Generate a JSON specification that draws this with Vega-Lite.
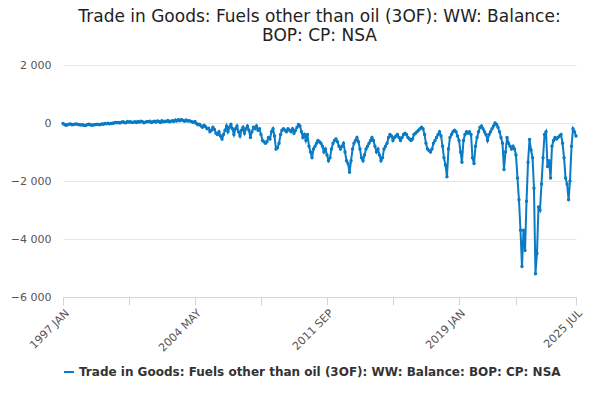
{
  "$schema": "https://vega.github.io/schema/vega-lite/v6.json",
  "width": 600,
  "height": 400,
  "autosize": {"type": "fit", "contains": "padding"},
  "padding": {"left": 10, "right": 16, "top": 8, "bottom": 22},
  "title": {
    "text": ["Trade in Goods: Fuels other than oil (3OF): WW: Balance:", "BOP: CP: NSA"],
    "font": "DejaVu Sans", "fontSize": 17, "fontWeight": "normal", "color": "#222", "anchor": "middle", "offset": 14
  },
  "data": {"values": [
    {"d":"1997-01-01","v":-20},{"d":"1997-02-01","v":-50},{"d":"1997-03-01","v":-80},{"d":"1997-04-01","v":-60},{"d":"1997-05-01","v":-40},{"d":"1997-06-01","v":-30},{"d":"1997-07-01","v":-60},{"d":"1997-08-01","v":-50},{"d":"1997-09-01","v":-40},{"d":"1997-10-01","v":-30},{"d":"1997-11-01","v":-50},{"d":"1997-12-01","v":-60},
    {"d":"1998-01-01","v":-70},{"d":"1998-02-01","v":-60},{"d":"1998-03-01","v":-80},{"d":"1998-04-01","v":-90},{"d":"1998-05-01","v":-60},{"d":"1998-06-01","v":-40},{"d":"1998-07-01","v":-50},{"d":"1998-08-01","v":-80},{"d":"1998-09-01","v":-70},{"d":"1998-10-01","v":-60},{"d":"1998-11-01","v":-50},{"d":"1998-12-01","v":-40},
    {"d":"1999-01-01","v":-60},{"d":"1999-02-01","v":-50},{"d":"1999-03-01","v":-30},{"d":"1999-04-01","v":-40},{"d":"1999-05-01","v":-20},{"d":"1999-06-01","v":-30},{"d":"1999-07-01","v":-10},{"d":"1999-08-01","v":-30},{"d":"1999-09-01","v":-20},{"d":"1999-10-01","v":-10},{"d":"1999-11-01","v":0},{"d":"1999-12-01","v":20},
    {"d":"2000-01-01","v":10},{"d":"2000-02-01","v":20},{"d":"2000-03-01","v":0},{"d":"2000-04-01","v":30},{"d":"2000-05-01","v":40},{"d":"2000-06-01","v":20},{"d":"2000-07-01","v":10},{"d":"2000-08-01","v":50},{"d":"2000-09-01","v":30},{"d":"2000-10-01","v":40},{"d":"2000-11-01","v":20},{"d":"2000-12-01","v":30},
    {"d":"2001-01-01","v":40},{"d":"2001-02-01","v":20},{"d":"2001-03-01","v":50},{"d":"2001-04-01","v":30},{"d":"2001-05-01","v":60},{"d":"2001-06-01","v":40},{"d":"2001-07-01","v":10},{"d":"2001-08-01","v":30},{"d":"2001-09-01","v":50},{"d":"2001-10-01","v":40},{"d":"2001-11-01","v":60},{"d":"2001-12-01","v":20},
    {"d":"2002-01-01","v":40},{"d":"2002-02-01","v":60},{"d":"2002-03-01","v":30},{"d":"2002-04-01","v":70},{"d":"2002-05-01","v":50},{"d":"2002-06-01","v":20},{"d":"2002-07-01","v":80},{"d":"2002-08-01","v":40},{"d":"2002-09-01","v":60},{"d":"2002-10-01","v":50},{"d":"2002-11-01","v":90},{"d":"2002-12-01","v":40},
    {"d":"2003-01-01","v":60},{"d":"2003-02-01","v":80},{"d":"2003-03-01","v":50},{"d":"2003-04-01","v":100},{"d":"2003-05-01","v":70},{"d":"2003-06-01","v":110},{"d":"2003-07-01","v":80},{"d":"2003-08-01","v":120},{"d":"2003-09-01","v":90},{"d":"2003-10-01","v":60},{"d":"2003-11-01","v":100},{"d":"2003-12-01","v":70},
    {"d":"2004-01-01","v":80},{"d":"2004-02-01","v":60},{"d":"2004-03-01","v":40},{"d":"2004-04-01","v":20},{"d":"2004-05-01","v":50},{"d":"2004-06-01","v":-20},{"d":"2004-07-01","v":-60},{"d":"2004-08-01","v":-40},{"d":"2004-09-01","v":-100},{"d":"2004-10-01","v":-150},{"d":"2004-11-01","v":-80},{"d":"2004-12-01","v":-120},
    {"d":"2005-01-01","v":-200},{"d":"2005-02-01","v":-180},{"d":"2005-03-01","v":-300},{"d":"2005-04-01","v":-250},{"d":"2005-05-01","v":-150},{"d":"2005-06-01","v":-220},{"d":"2005-07-01","v":-350},{"d":"2005-08-01","v":-400},{"d":"2005-09-01","v":-300},{"d":"2005-10-01","v":-450},{"d":"2005-11-01","v":-550},{"d":"2005-12-01","v":-400},
    {"d":"2006-01-01","v":-250},{"d":"2006-02-01","v":-100},{"d":"2006-03-01","v":-300},{"d":"2006-04-01","v":-150},{"d":"2006-05-01","v":-50},{"d":"2006-06-01","v":-200},{"d":"2006-07-01","v":-400},{"d":"2006-08-01","v":-200},{"d":"2006-09-01","v":-100},{"d":"2006-10-01","v":-300},{"d":"2006-11-01","v":-450},{"d":"2006-12-01","v":-250},
    {"d":"2007-01-01","v":-150},{"d":"2007-02-01","v":-350},{"d":"2007-03-01","v":-200},{"d":"2007-04-01","v":-100},{"d":"2007-05-01","v":-250},{"d":"2007-06-01","v":-500},{"d":"2007-07-01","v":-300},{"d":"2007-08-01","v":-150},{"d":"2007-09-01","v":-200},{"d":"2007-10-01","v":-100},{"d":"2007-11-01","v":-250},{"d":"2007-12-01","v":-200},
    {"d":"2008-01-01","v":-400},{"d":"2008-02-01","v":-600},{"d":"2008-03-01","v":-650},{"d":"2008-04-01","v":-700},{"d":"2008-05-01","v":-650},{"d":"2008-06-01","v":-500},{"d":"2008-07-01","v":-550},{"d":"2008-08-01","v":-300},{"d":"2008-09-01","v":-200},{"d":"2008-10-01","v":-450},{"d":"2008-11-01","v":-900},{"d":"2008-12-01","v":-850},
    {"d":"2009-01-01","v":-700},{"d":"2009-02-01","v":-400},{"d":"2009-03-01","v":-250},{"d":"2009-04-01","v":-200},{"d":"2009-05-01","v":-250},{"d":"2009-06-01","v":-300},{"d":"2009-07-01","v":-200},{"d":"2009-08-01","v":-250},{"d":"2009-09-01","v":-300},{"d":"2009-10-01","v":-200},{"d":"2009-11-01","v":-350},{"d":"2009-12-01","v":-250},
    {"d":"2010-01-01","v":-150},{"d":"2010-02-01","v":-50},{"d":"2010-03-01","v":-100},{"d":"2010-04-01","v":-300},{"d":"2010-05-01","v":-500},{"d":"2010-06-01","v":-400},{"d":"2010-07-01","v":-600},{"d":"2010-08-01","v":-400},{"d":"2010-09-01","v":-800},{"d":"2010-10-01","v":-1000},{"d":"2010-11-01","v":-1200},{"d":"2010-12-01","v":-900},
    {"d":"2011-01-01","v":-800},{"d":"2011-02-01","v":-700},{"d":"2011-03-01","v":-600},{"d":"2011-04-01","v":-650},{"d":"2011-05-01","v":-700},{"d":"2011-06-01","v":-800},{"d":"2011-07-01","v":-1000},{"d":"2011-08-01","v":-900},{"d":"2011-09-01","v":-1100},{"d":"2011-10-01","v":-1300},{"d":"2011-11-01","v":-1200},{"d":"2011-12-01","v":-900},
    {"d":"2012-01-01","v":-700},{"d":"2012-02-01","v":-600},{"d":"2012-03-01","v":-550},{"d":"2012-04-01","v":-650},{"d":"2012-05-01","v":-800},{"d":"2012-06-01","v":-900},{"d":"2012-07-01","v":-800},{"d":"2012-08-01","v":-700},{"d":"2012-09-01","v":-1000},{"d":"2012-10-01","v":-1300},{"d":"2012-11-01","v":-1400},{"d":"2012-12-01","v":-1700},
    {"d":"2013-01-01","v":-1300},{"d":"2013-02-01","v":-900},{"d":"2013-03-01","v":-700},{"d":"2013-04-01","v":-600},{"d":"2013-05-01","v":-500},{"d":"2013-06-01","v":-650},{"d":"2013-07-01","v":-900},{"d":"2013-08-01","v":-1200},{"d":"2013-09-01","v":-1300},{"d":"2013-10-01","v":-1100},{"d":"2013-11-01","v":-900},{"d":"2013-12-01","v":-800},
    {"d":"2014-01-01","v":-700},{"d":"2014-02-01","v":-600},{"d":"2014-03-01","v":-500},{"d":"2014-04-01","v":-600},{"d":"2014-05-01","v":-800},{"d":"2014-06-01","v":-1000},{"d":"2014-07-01","v":-900},{"d":"2014-08-01","v":-1100},{"d":"2014-09-01","v":-1300},{"d":"2014-10-01","v":-1200},{"d":"2014-11-01","v":-900},{"d":"2014-12-01","v":-800},
    {"d":"2015-01-01","v":-700},{"d":"2015-02-01","v":-500},{"d":"2015-03-01","v":-400},{"d":"2015-04-01","v":-450},{"d":"2015-05-01","v":-600},{"d":"2015-06-01","v":-500},{"d":"2015-07-01","v":-450},{"d":"2015-08-01","v":-400},{"d":"2015-09-01","v":-500},{"d":"2015-10-01","v":-600},{"d":"2015-11-01","v":-500},{"d":"2015-12-01","v":-400},
    {"d":"2016-01-01","v":-350},{"d":"2016-02-01","v":-400},{"d":"2016-03-01","v":-500},{"d":"2016-04-01","v":-550},{"d":"2016-05-01","v":-600},{"d":"2016-06-01","v":-550},{"d":"2016-07-01","v":-400},{"d":"2016-08-01","v":-350},{"d":"2016-09-01","v":-300},{"d":"2016-10-01","v":-250},{"d":"2016-11-01","v":-200},{"d":"2016-12-01","v":-150},
    {"d":"2017-01-01","v":-200},{"d":"2017-02-01","v":-400},{"d":"2017-03-01","v":-700},{"d":"2017-04-01","v":-900},{"d":"2017-05-01","v":-950},{"d":"2017-06-01","v":-1000},{"d":"2017-07-01","v":-900},{"d":"2017-08-01","v":-700},{"d":"2017-09-01","v":-600},{"d":"2017-10-01","v":-500},{"d":"2017-11-01","v":-400},{"d":"2017-12-01","v":-300},
    {"d":"2018-01-01","v":-450},{"d":"2018-02-01","v":-800},{"d":"2018-03-01","v":-1200},{"d":"2018-04-01","v":-1450},{"d":"2018-05-01","v":-1850},{"d":"2018-06-01","v":-900},{"d":"2018-07-01","v":-500},{"d":"2018-08-01","v":-400},{"d":"2018-09-01","v":-300},{"d":"2018-10-01","v":-250},{"d":"2018-11-01","v":-300},{"d":"2018-12-01","v":-450},
    {"d":"2019-01-01","v":-600},{"d":"2019-02-01","v":-1000},{"d":"2019-03-01","v":-1350},{"d":"2019-04-01","v":-600},{"d":"2019-05-01","v":-400},{"d":"2019-06-01","v":-300},{"d":"2019-07-01","v":-350},{"d":"2019-08-01","v":-300},{"d":"2019-09-01","v":-400},{"d":"2019-10-01","v":-1200},{"d":"2019-11-01","v":-1400},{"d":"2019-12-01","v":-800},
    {"d":"2020-01-01","v":-500},{"d":"2020-02-01","v":-300},{"d":"2020-03-01","v":-150},{"d":"2020-04-01","v":-100},{"d":"2020-05-01","v":-200},{"d":"2020-06-01","v":-300},{"d":"2020-07-01","v":-400},{"d":"2020-08-01","v":-600},{"d":"2020-09-01","v":-400},{"d":"2020-10-01","v":-300},{"d":"2020-11-01","v":-200},{"d":"2020-12-01","v":-100},
    {"d":"2021-01-01","v":0},{"d":"2021-02-01","v":-50},{"d":"2021-03-01","v":-150},{"d":"2021-04-01","v":-300},{"d":"2021-05-01","v":-500},{"d":"2021-06-01","v":-700},{"d":"2021-07-01","v":-1600},{"d":"2021-08-01","v":-1000},{"d":"2021-09-01","v":-500},{"d":"2021-10-01","v":-700},{"d":"2021-11-01","v":-800},{"d":"2021-12-01","v":-900},
    {"d":"2022-01-01","v":-800},{"d":"2022-02-01","v":-900},{"d":"2022-03-01","v":-1100},{"d":"2022-04-01","v":-1900},{"d":"2022-05-01","v":-2650},{"d":"2022-06-01","v":-3700},{"d":"2022-07-01","v":-4950},{"d":"2022-08-01","v":-3700},{"d":"2022-09-01","v":-4400},{"d":"2022-10-01","v":-2700},{"d":"2022-11-01","v":-1350},{"d":"2022-12-01","v":-570},
    {"d":"2023-01-01","v":-930},{"d":"2023-02-01","v":-1200},{"d":"2023-03-01","v":-2250},{"d":"2023-04-01","v":-5200},{"d":"2023-05-01","v":-4500},{"d":"2023-06-01","v":-2900},{"d":"2023-07-01","v":-3000},{"d":"2023-08-01","v":-2100},{"d":"2023-09-01","v":-1200},{"d":"2023-10-01","v":-400},{"d":"2023-11-01","v":-300},{"d":"2023-12-01","v":-1500},
    {"d":"2024-01-01","v":-1300},{"d":"2024-02-01","v":-1900},{"d":"2024-03-01","v":-800},{"d":"2024-04-01","v":-600},{"d":"2024-05-01","v":-500},{"d":"2024-06-01","v":-550},{"d":"2024-07-01","v":-500},{"d":"2024-08-01","v":-450},{"d":"2024-09-01","v":-400},{"d":"2024-10-01","v":-700},{"d":"2024-11-01","v":-1200},{"d":"2024-12-01","v":-1900},
    {"d":"2025-01-01","v":-2100},{"d":"2025-02-01","v":-2650},{"d":"2025-03-01","v":-2000},{"d":"2025-04-01","v":-800},{"d":"2025-05-01","v":-200},{"d":"2025-06-01","v":-300},{"d":"2025-07-01","v":-450}
  ]},
  "transform": [
    {"calculate": "'Trade in Goods: Fuels other than oil (3OF): WW: Balance: BOP: CP: NSA'", "as": "series"}
  ],
  "mark": {"type": "line", "color": "#0a7bc4", "strokeWidth": 2, "point": {"size": 12, "filled": true}},
  "encoding": {
    "x": {
      "field": "d", "type": "temporal", "title": null,
      "scale": {"domain": [{"year": 1997, "month": 1, "date": 1, "utc": true}, {"year": 2025, "month": 7, "date": 1, "utc": true}]},
      "axis": {
        "values": [
          {"year": 1997, "month": 1, "date": 1, "utc": true}, {"year": 2000, "month": 9, "date": 1, "utc": true},
          {"year": 2004, "month": 5, "date": 1, "utc": true}, {"year": 2008, "month": 1, "date": 1, "utc": true},
          {"year": 2011, "month": 9, "date": 1, "utc": true}, {"year": 2015, "month": 5, "date": 1, "utc": true},
          {"year": 2019, "month": 1, "date": 1, "utc": true}, {"year": 2022, "month": 3, "date": 1, "utc": true},
          {"year": 2025, "month": 7, "date": 1, "utc": true}
        ],
        "labelExpr": "indexof([1997,2004,2011,2019,2025], utcyear(datum.value)) >= 0 ? upper(utcFormat(datum.value, '%Y %b')) : ''",
        "labelAngle": -45, "labelAlign": "right", "labelBaseline": "top",
        "labelFont": "DejaVu Sans", "labelFontSize": 11, "labelColor": "#555",
        "grid": false, "domainColor": "#ccd6eb", "tickColor": "#ccd6eb", "tickSize": 8
      }
    },
    "y": {
      "field": "v", "type": "quantitative", "title": null,
      "scale": {"domain": [-6000, 2000], "nice": false},
      "axis": {
        "values": [-6000, -4000, -2000, 0, 2000],
        "labelExpr": "replace(format(datum.value, ','), ',', ' ')",
        "labelFont": "DejaVu Sans", "labelFontSize": 11, "labelColor": "#555",
        "domain": false, "ticks": false, "gridColor": "#e6e6e6", "labelPadding": 12
      }
    },
    "color": {
      "field": "series", "type": "nominal", "title": null,
      "scale": {"range": ["#0a7bc4"]},
      "legend": {
        "orient": "bottom", "symbolType": "stroke", "symbolStrokeWidth": 2,
        "labelFont": "DejaVu Sans", "labelFontSize": 12, "labelFontWeight": "bold",
        "labelColor": "#333", "labelLimit": 600, "offset": 12
      }
    }
  },
  "config": {"view": {"stroke": null}}
}
